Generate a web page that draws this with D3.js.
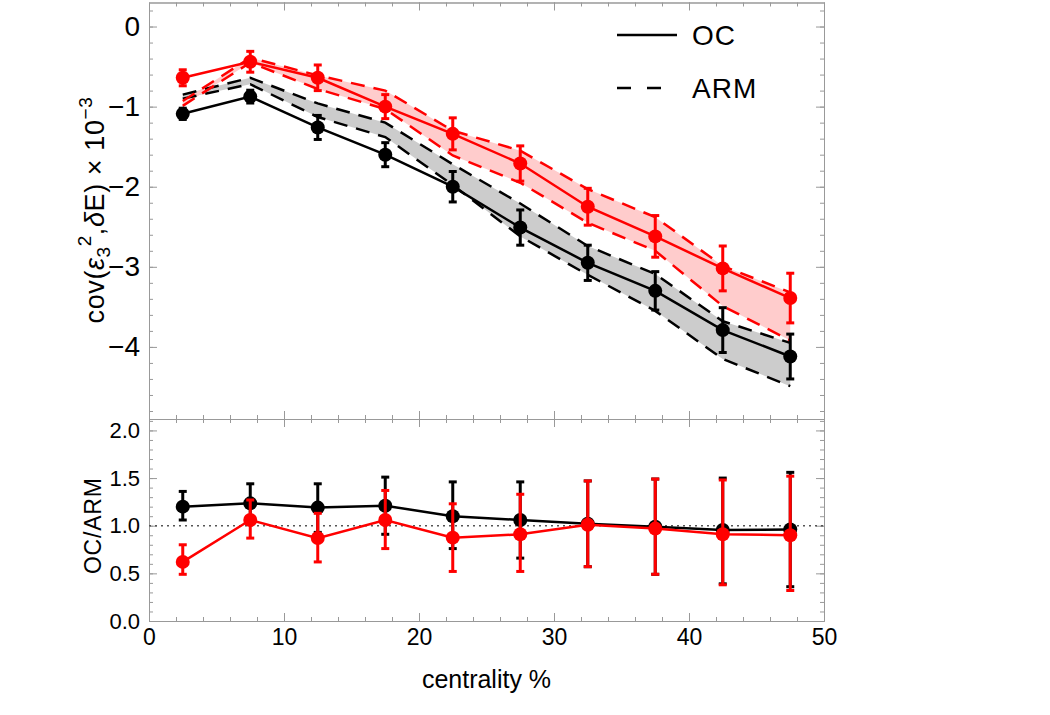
<!DOCTYPE html>
<html>
<head>
<meta charset="utf-8">
<script src="https://cdn.jsdelivr.net/npm/d3@7"></script>
<style>
  body { margin: 0; background: #fff; }
  svg text { font-family: "Liberation Sans", Arial, sans-serif; fill: #000; }
</style>
</head>
<body>
<svg id="chart" width="1050" height="715"></svg>
<script>
// centrality bins (bin centres)
const centrality = [2.5, 7.5, 12.5, 17.5, 22.5, 27.5, 32.5, 37.5, 42.5, 47.5];

// OC results (points with error bars), x 10^-3
const ocBlack    = [-1.09, -0.875, -1.26, -1.60, -2.00, -2.51, -2.95, -3.30, -3.79, -4.12];
const ocBlackErr = [0.07, 0.08, 0.15, 0.15, 0.19, 0.22, 0.22, 0.24, 0.28, 0.28];
const ocRed      = [-0.64, -0.44, -0.64, -1.00, -1.34, -1.71, -2.25, -2.62, -3.02, -3.39];
const ocRedErr   = [0.10, 0.13, 0.16, 0.15, 0.20, 0.22, 0.23, 0.26, 0.28, 0.31];

// ARM bands (upper / lower dashed curves)
const armBlackHi = [-0.85, -0.64, -0.96, -1.20, -1.72, -2.21, -2.74, -3.09, -3.68, -3.95];
const armBlackLo = [-0.90, -0.72, -1.13, -1.38, -1.98, -2.62, -3.10, -3.55, -4.15, -4.49];
const armRedHi   = [-0.93, -0.39, -0.61, -0.80, -1.30, -1.55, -2.03, -2.38, -2.99, -3.32];
const armRedLo   = [-0.99, -0.45, -0.78, -1.03, -1.61, -1.95, -2.45, -2.80, -3.49, -3.92];

// ratio OC/ARM
const ratioBlack   = [1.20, 1.235, 1.19, 1.21, 1.10, 1.06, 1.02, 0.99, 0.955, 0.96];
const ratioBlackHi = [1.36, 1.44, 1.44, 1.51, 1.46, 1.46, 1.47, 1.49, 1.50, 1.56];
const ratioBlackLo = [1.06, 1.02, 0.93, 0.91, 0.76, 0.66, 0.57, 0.49, 0.39, 0.36];
const ratioRed     = [0.62, 1.06, 0.87, 1.06, 0.875, 0.91, 1.01, 0.97, 0.91, 0.90];
const ratioRedHi   = [0.80, 1.27, 1.13, 1.37, 1.23, 1.33, 1.47, 1.49, 1.48, 1.52];
const ratioRedLo   = [0.49, 0.87, 0.62, 0.76, 0.52, 0.52, 0.57, 0.49, 0.38, 0.32];

// ticks
const xTicks = [0, 10, 20, 30, 40, 50];
const topYTicks = [0, -1, -2, -3, -4];
const botYTicks = [0, 0.5, 1, 1.5, 2];

const svg = d3.select('#chart');
const left = 149, right = 824;
const topY0 = 2.5, topY1 = 419, botY1 = 621;

const x = d3.scaleLinear().domain([0, 50]).range([left, right]);
const yTop = d3.scaleLinear().domain([-4.9, 0.3]).range([topY1, topY0]);
const yBot = d3.scaleLinear().domain([0, 2.12]).range([botY1, topY1]);

const frameCol = '#999';
const minor = (a, b, s) => d3.range(Math.ceil(a / s - 1e-6), Math.floor(b / s + 1e-6) + 1).map(i => +(i * s).toFixed(3));

// draw frame + inward ticks for one panel
function frame(y, yMajor, yMinorStep, showX, yFmt, fontSize) {
  const g = svg.append('g');
  const y0 = y.range()[0], y1 = y.range()[1];
  const xMinor = minor(0, 50, 2);
  const yMinor = minor(y.domain()[0], y.domain()[1], yMinorStep);
  const defs = [
    [d3.axisBottom(x).tickValues(xMinor).tickSize(-4), `translate(0,${y0})`],
    [d3.axisBottom(x).tickValues(xTicks).tickSize(-8), `translate(0,${y0})`],
    [d3.axisTop(x).tickValues(xMinor).tickSize(-4), `translate(0,${y1})`],
    [d3.axisTop(x).tickValues(xTicks).tickSize(-8), `translate(0,${y1})`],
    [d3.axisLeft(y).tickValues(yMinor).tickSize(-4), `translate(${left},0)`],
    [d3.axisLeft(y).tickValues(yMajor).tickSize(-8), `translate(${left},0)`],
    [d3.axisRight(y).tickValues(yMinor).tickSize(-4), `translate(${right},0)`],
    [d3.axisRight(y).tickValues(yMajor).tickSize(-8), `translate(${right},0)`]
  ];
  defs.forEach(([ax, tr]) => {
    const a = g.append('g').attr('transform', tr).call(ax.tickSizeOuter(0).tickFormat(''));
    a.selectAll('path, line').attr('stroke', frameCol).attr('stroke-width', 1);
  });
  // y labels
  g.append('g').attr('transform', `translate(${left},0)`)
    .call(d3.axisLeft(y).tickValues(yMajor).tickSize(0).tickPadding(9).tickFormat(yFmt))
    .call(a => a.select('.domain').remove())
    .selectAll('text').attr('font-size', fontSize).attr('font-family', '"Liberation Sans", Arial, sans-serif');
  if (showX) {
    g.append('g').attr('transform', `translate(0,${y0})`)
      .call(d3.axisBottom(x).tickValues(xTicks).tickSize(0).tickPadding(8).tickFormat(d3.format('d')))
      .call(a => a.select('.domain').remove())
      .selectAll('text').attr('font-size', 23).attr('font-family', '"Liberation Sans", Arial, sans-serif');
  }
}

frame(yTop, topYTicks, 0.2, false, d => d === 0 ? '0' : '\u2212' + Math.abs(d), 28);
frame(yBot, botYTicks, 0.1, true, d3.format('.1f'), 22);

const idx = d3.range(centrality.length);

// ---- top panel ----
const topG = svg.append('g');
const band = (hi, lo) => d3.area().x(i => x(centrality[i])).y0(i => yTop(lo[i])).y1(i => yTop(hi[i]));
const lineTop = arr => d3.line().x(i => x(centrality[i])).y(i => yTop(arr[i]));

topG.append('path').datum(idx).attr('d', band(armBlackHi, armBlackLo)).attr('fill', '#cccccc');
topG.append('path').datum(idx).attr('d', band(armRedHi, armRedLo)).attr('fill', '#ffcccc');

[[armBlackHi, '#000'], [armBlackLo, '#000'], [armRedHi, '#f00'], [armRedLo, '#f00']].forEach(([arr, c]) => {
  topG.append('path').datum(idx).attr('d', lineTop(arr)).attr('fill', 'none')
    .attr('stroke', c).attr('stroke-width', 2.5).attr('stroke-dasharray', '14,9');
});

function series(g, y, vals, lo, hi, col) {
  g.append('path').datum(idx)
    .attr('d', d3.line().x(i => x(centrality[i])).y(i => y(vals[i])))
    .attr('fill', 'none').attr('stroke', col).attr('stroke-width', 2.5);
  const eb = g.append('g').selectAll('g').data(idx).join('g');
  eb.append('line').attr('x1', i => x(centrality[i])).attr('x2', i => x(centrality[i]))
    .attr('y1', i => y(lo[i])).attr('y2', i => y(hi[i])).attr('stroke', col).attr('stroke-width', 3);
  [lo, hi].forEach(arr => {
    eb.append('line').attr('x1', i => x(centrality[i]) - 4).attr('x2', i => x(centrality[i]) + 4)
      .attr('y1', i => y(arr[i])).attr('y2', i => y(arr[i])).attr('stroke', col).attr('stroke-width', 3);
  });
  g.append('g').selectAll('circle').data(idx).join('circle')
    .attr('cx', i => x(centrality[i])).attr('cy', i => y(vals[i])).attr('r', 7).attr('fill', col);
}

series(topG, yTop, ocBlack, ocBlack.map((v, i) => v - ocBlackErr[i]), ocBlack.map((v, i) => v + ocBlackErr[i]), '#000');
series(topG, yTop, ocRed, ocRed.map((v, i) => v - ocRedErr[i]), ocRed.map((v, i) => v + ocRedErr[i]), '#f00');

// ---- bottom panel ----
const botG = svg.append('g');
botG.append('line').attr('x1', left).attr('x2', right).attr('y1', yBot(1)).attr('y2', yBot(1))
  .attr('stroke', '#555').attr('stroke-width', 1.5).attr('stroke-dasharray', '2,4');
series(botG, yBot, ratioBlack, ratioBlackLo, ratioBlackHi, '#000');
series(botG, yBot, ratioRed, ratioRedLo, ratioRedHi, '#f00');

// ---- legend ----
const leg = svg.append('g');
leg.append('line').attr('x1', 617).attr('x2', 677).attr('y1', 35).attr('y2', 35).attr('stroke', '#000').attr('stroke-width', 2.5);
leg.append('line').attr('x1', 617).attr('x2', 677).attr('y1', 88).attr('y2', 88).attr('stroke', '#000').attr('stroke-width', 2.5).attr('stroke-dasharray', '14,16');
leg.append('text').attr('x', 692).attr('y', 45).attr('font-size', 28).attr('letter-spacing', 1).text('OC');
leg.append('text').attr('x', 692).attr('y', 98).attr('font-size', 28).attr('letter-spacing', 1).text('ARM');

// ---- axis titles ----
const yt = svg.append('text').attr('transform', 'translate(104,210) rotate(-90)')
  .attr('text-anchor', 'middle').attr('font-size', 27).attr('letter-spacing', 0.6);
yt.append('tspan').text('cov(');
yt.append('tspan').attr('font-style', 'italic').text('\u03b5');
yt.append('tspan').attr('font-size', 19).attr('dy', 6).text('3');
yt.append('tspan').attr('font-size', 19).attr('dy', -19).text('2');
yt.append('tspan').attr('dy', 13).text(',');
yt.append('tspan').attr('font-style', 'italic').text('\u03b4');
yt.append('tspan').text('E) \u00d7 10');
yt.append('tspan').attr('font-size', 19).attr('dy', -12).text('\u22123');

svg.append('text').attr('transform', `translate(101,${yBot(1)}) rotate(-90)`)
  .attr('text-anchor', 'middle').attr('font-size', 23).attr('letter-spacing', 0.8).text('OC/ARM');

svg.append('text').attr('x', (left + right) / 2).attr('y', 688)
  .attr('text-anchor', 'middle').attr('font-size', 25).text('centrality %');
</script>
</body>
</html>
